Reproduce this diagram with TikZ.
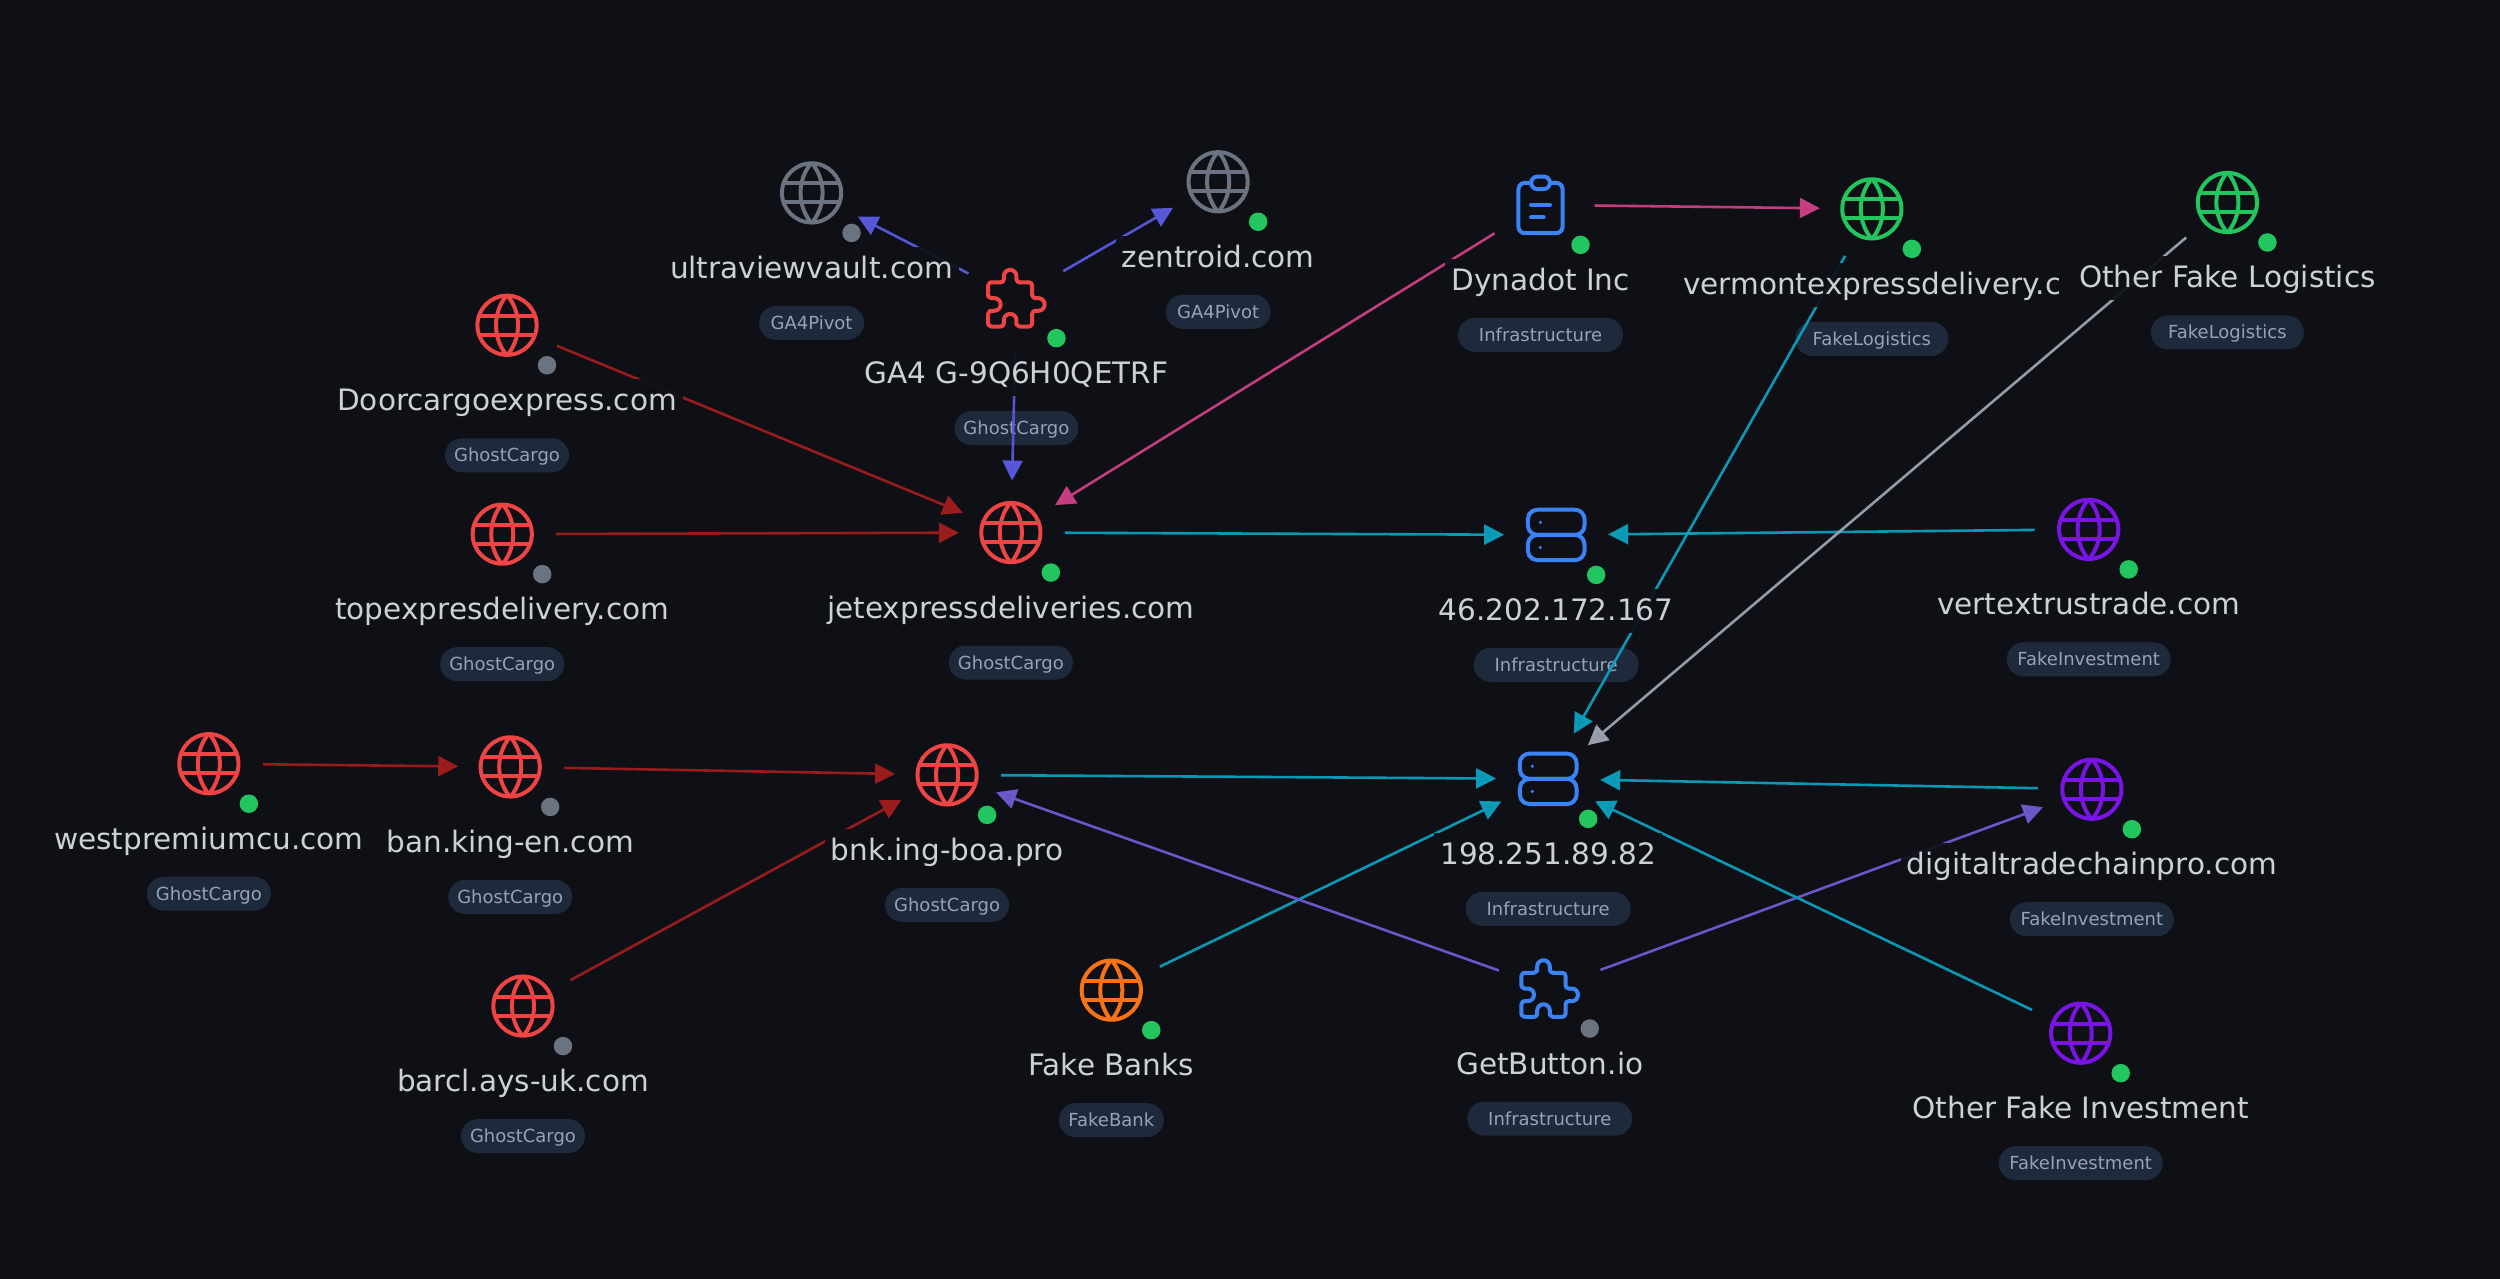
\documentclass[tikz,border=0pt]{standalone}
\usepackage{fontspec}
\setmainfont{DejaVu Sans}
\usetikzlibrary{svg.path,arrows.meta}
\definecolor{bgc}{HTML}{0E1016}
\definecolor{labc}{HTML}{CDD1D6}
\definecolor{tagbg}{HTML}{1E293B}
\definecolor{tagtx}{HTML}{94A3B8}
\definecolor{cred}{HTML}{EF4444}
\definecolor{cgray}{HTML}{6B7280}
\definecolor{cgreen}{HTML}{22C55E}
\definecolor{cblue}{HTML}{3B82F6}
\definecolor{corange}{HTML}{F97316}
\definecolor{cpurple}{HTML}{7A14E6}
\definecolor{ered}{HTML}{A11D1D}
\definecolor{ecyan}{HTML}{0AA0BE}
\definecolor{eindigo}{HTML}{5A5AE0}
\definecolor{eviolet}{HTML}{6D5BD0}
\definecolor{epink}{HTML}{CC3F85}
\definecolor{egray}{HTML}{9CA3AF}
\tikzset{
  anchorbox/.style={circle,minimum size=104pt,inner sep=0pt,outer sep=0pt},
  tagbox/.style={rounded corners=17pt,fill=tagbg,minimum height=34pt,inner xsep=0pt,inner ysep=0pt,text height=16pt,text depth=3pt,text=tagtx,font=\fontsize{18}{22}\selectfont},
  tw-Infrastructure/.style={minimum width=165pt},
  tw-FakeLogistics/.style={minimum width=153pt},
  tw-GhostCargo/.style={minimum width=124pt},
  tw-GA4Pivot/.style={minimum width=105pt},
  tw-FakeInvestment/.style={minimum width=164pt},
  tw-FakeBank/.style={minimum width=105pt},
  labelbox/.style={fill=bgc,fill opacity=.92,text opacity=1,text=labc,minimum height=44pt,inner xsep=6pt,inner ysep=0pt,text height=22pt,text depth=3pt,font=\fontsize{29.5}{36}\selectfont},
  edge/.style={line width=2.6pt,opacity=.95,shorten <=2pt,-{Triangle[length=20pt,width=20pt]}},
  iconline/.style={line width=4pt,line cap=round,line join=round},
  statusdot/.style={circle,inner sep=0pt,minimum size=18.5pt},
}
\newcommand{\iconglobe}[1]{%
  \draw[iconline,#1] (12pt,12pt) circle[radius=9.4pt];
  \draw[iconline,#1] svg {M3.6 9h16.8};
  \draw[iconline,#1] svg {M3.6 15h16.8};
  \draw[iconline,#1] svg {M11.5 3a15 15 0 0 0 0 18};
  \draw[iconline,#1] svg {M12.5 3a15 15 0 0 1 0 18};
}
\newcommand{\iconpuzzle}[1]{%
  \draw[iconline,#1] svg {M4 7h3a1 1 0 0 0 1 -1v-1a2 2 0 0 1 4 0v1a1 1 0 0 0 1 1h3a1 1 0 0 1 1 1v3a1 1 0 0 0 1 1h1a2 2 0 0 1 0 4h-1a1 1 0 0 0 -1 1v3a1 1 0 0 1 -1 1h-3a1 1 0 0 1 -1 -1v-1a2 2 0 0 0 -4 0v1a1 1 0 0 1 -1 1h-3a1 1 0 0 1 -1 -1v-3a1 1 0 0 1 1 -1h1a2 2 0 0 0 0 -4h-1a1 1 0 0 1 -1 -1v-3a1 1 0 0 1 1 -1z};
}
\newcommand{\iconserver}[1]{%
  \draw[iconline,#1] svg {M3 7a3 3 0 0 1 3 -3h12a3 3 0 0 1 3 3v2a3 3 0 0 1 -3 3h-12a3 3 0 0 1 -3 -3z};
  \draw[iconline,#1] svg {M3 15a3 3 0 0 1 3 -3h12a3 3 0 0 1 3 3v2a3 3 0 0 1 -3 3h-12a3 3 0 0 1 -3 -3z};
  \fill[#1] (7pt,8pt) circle[radius=.55pt];
  \fill[#1] (7pt,16pt) circle[radius=.55pt];
}
\newcommand{\iconclip}[1]{%
  \draw[iconline,#1] svg {M9 5h-2a2 2 0 0 0 -2 2v12a2 2 0 0 0 2 2h10a2 2 0 0 0 2 -2v-12a2 2 0 0 0 -2 -2h-2};
  \draw[iconline,#1] svg {M9 5a2 2 0 0 1 2 -2h2a2 2 0 0 1 2 2v0a2 2 0 0 1 -2 2h-2a2 2 0 0 1 -2 -2z};
  \draw[iconline,#1] svg {M9 12h6};
  \draw[iconline,#1] svg {M9 16h4};
}
\def\entlist{ultra/509/121/globe/cgray/cgray/ultraviewvault.com/GA4Pivot,
 zentroid/764/114/globe/cgray/cgreen/zentroid.com/GA4Pivot,
 ga/637.5/187/puzzle/cred/cgreen/GA4 G-9Q6H0QETRF/GhostCargo,
 dynadot/966.2/128.5/clip/cblue/cgreen/Dynadot Inc/Infrastructure,
 vermont/1174/131/globe/cgreen/cgreen//FakeLogistics,
 otherlog/1397/127/globe/cgreen/cgreen/Other Fake Logistics/FakeLogistics,
 door/318/204/globe/cred/cgray/Doorcargoexpress.com/GhostCargo,
 top/315/335/globe/cred/cgray/topexpresdelivery.com/GhostCargo,
 jet/634/334/globe/cred/cgreen/jetexpressdeliveries.com/GhostCargo,
 ipa/976/335.5/server/cblue/cgreen/46.202.172.167/Infrastructure,
 vertex/1310/332/globe/cpurple/cgreen/vertextrustrade.com/FakeInvestment,
 west/131/479/globe/cred/cgreen/westpremiumcu.com/GhostCargo,
 ban/320/481/globe/cred/cgray/ban.king-en.com/GhostCargo,
 bnk/594/486/globe/cred/cgreen/bnk.ing-boa.pro/GhostCargo,
 ipb/971/488.5/server/cblue/cgreen/198.251.89.82/Infrastructure,
 digital/1312/495/globe/cpurple/cgreen/digitaltradechainpro.com/FakeInvestment,
 barcl/328/631/globe/cred/cgray/barcl.ays-uk.com/GhostCargo,
 banks/697/621/globe/corange/cgreen/Fake Banks/FakeBank,
 getb/972/620/puzzle/cblue/cgray/GetButton.io/Infrastructure,
 otherinv/1305/648/globe/cpurple/cgreen/Other Fake Investment/FakeInvestment}
\begin{document}
\begin{tikzpicture}[x=1.5944pt,y=-1.5944pt]
\fill[bgc] (0pt,0pt) rectangle (2500pt,-1279pt);
\useasboundingbox (0pt,0pt) rectangle (2500pt,-1279pt);
% anchors and tags
\foreach \n/\cx/\cy/\ic/\col/\dotc/\lab/\tg in \entlist {
  \node[anchorbox] (\n) at (\cx,\cy) {};
  \node[tagbox,tw-\tg] (tag-\n) at ([yshift=-130pt]\n.center) {\tg};
}
% connectors
\draw[edge,ered] (door) -- (jet);
\draw[edge,ered] (top) -- (jet);
\draw[edge,eindigo] (ga) -- (jet);
\draw[edge,eindigo] (ga) -- (ultra);
\draw[edge,eindigo] (ga) -- (zentroid);
\draw[edge,epink] (dynadot) -- (jet);
\draw[edge,epink] (dynadot) -- (vermont);
\draw[edge,ecyan] (jet) -- (ipa);
\draw[edge,ecyan] (vertex) -- (ipa);
\draw[edge,ecyan] (vermont) -- (ipb);
\draw[edge,egray] (otherlog) -- (ipb);
\draw[edge,ered] (west) -- (ban);
\draw[edge,ered] (ban) -- (bnk);
\draw[edge,ered] (barcl) -- (bnk);
\draw[edge,ecyan] (bnk) -- (ipb);
\draw[edge,ecyan] (banks) -- (ipb);
\draw[edge,eviolet] (getb) -- (bnk);
\draw[edge,eviolet] (getb) -- (digital);
\draw[edge,ecyan] (digital) -- (ipb);
\draw[edge,ecyan] (otherinv) -- (ipb);
% labels, icons, dots
\foreach \n/\cx/\cy/\ic/\col/\dotc/\lab/\tg in \entlist {
  \if\relax\lab\relax\else
    \node[labelbox] (lab-\n) at ([yshift=-76pt]\n.center) {\lab};
  \fi
  \begin{scope}[shift={(\n.center)},xscale=3.15,yscale=-3.15,shift={(-12pt,-12pt)}]
    \csname icon\ic\endcsname{\col}
  \end{scope}
  \node[statusdot,fill=\dotc] (dot-\n) at ([xshift=40pt,yshift=-40pt]\n.center) {};
}
% clipped label
\fill[bgc,opacity=.92] (1678pt,-263pt) rectangle (2058pt,-307pt);
\begin{scope}
  \clip (1678pt,-255pt) rectangle (2058pt,-315pt);
  \node[anchor=base west,text=labc,inner sep=0pt,font=\fontsize{29.5}{36}\selectfont] (lab-vermont) at (1683pt,-294pt) {vermontexpressdelivery.c};
\end{scope}
\end{tikzpicture}
\end{document}
